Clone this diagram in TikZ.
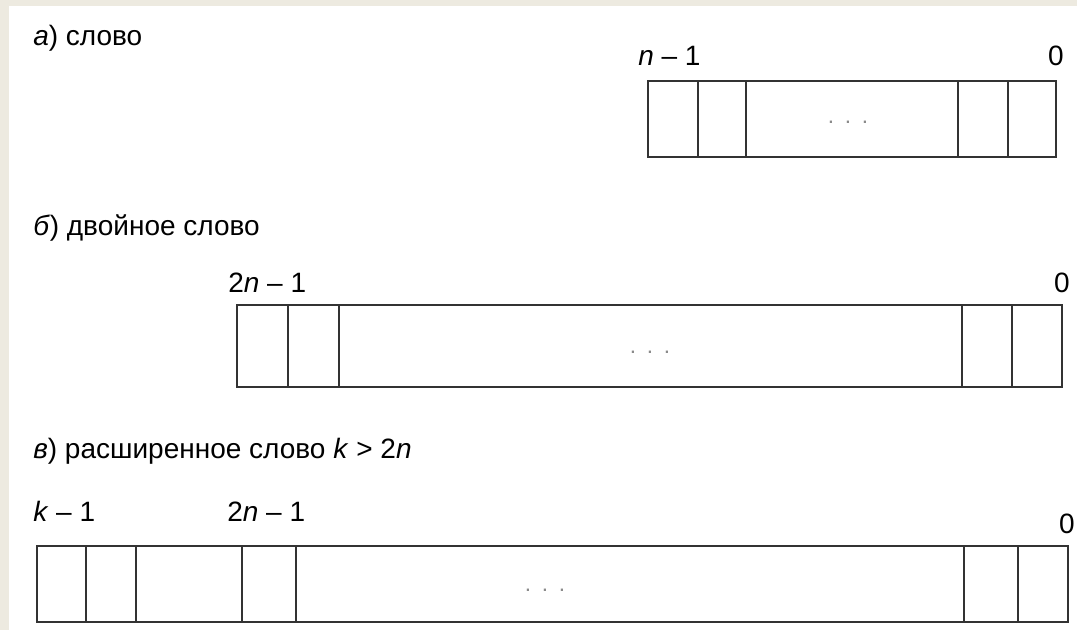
\documentclass[tikz,border=0pt]{standalone}
\usepackage{fontspec}
\setmainfont{Liberation Sans}
\usetikzlibrary{positioning}
\definecolor{WordFrame}{HTML}{EDEAE0}
\definecolor{WordLine}{HTML}{333333}
\definecolor{WordDots}{HTML}{8A8A8A}

\begin{document}
\begin{tikzpicture}[x=0.75pt,y=-0.75pt,node distance=0pt]
    \tikzset{cell/.style={draw=WordLine,line width=1.5pt,inner sep=0pt,outer sep=0pt},
      cw/.style={minimum width=#1*0.75pt},
      ch/.style={minimum height=#1*0.75pt},
      title/.style={inner sep=0pt,anchor=base west,font=\fontsize{21}{25}\selectfont},
      bit/.style={inner sep=0pt,font=\fontsize{21}{25}\selectfont},
      dots/.style={inner sep=0pt,text=WordDots,font=\fontsize{17}{19}\selectfont}}
    \useasboundingbox (0,0) rectangle (1077,630);
    \fill[WordFrame] (0,0) rectangle (1077,630);
    \fill[white] (9,6) rectangle (1077,630);
    % a) word
    \node[title] (ta) at (33,46) {\textit{а}) слово};
    \node[cell,cw=50,ch=76,anchor=north west] (a1) at (648,81) {};
    \node[cell,cw=48,ch=76,right=of a1] (a2) {};
    \node[cell,cw=212,ch=76,right=of a2] (a3) {};
    \node[cell,cw=50,ch=76,right=of a3] (a4) {};
    \node[cell,cw=48,ch=76,right=of a4] (a5) {};
    \node[bit,anchor=base west] (ahi) at (638,66) {\textit{n} – 1};
    \node[bit,anchor=base] (alo) at (a5.east |- ahi.base) {0};
    \node[dots] (ad) at (848,122) {.\hspace{8pt}.\hspace{8pt}.};
    % b) double word
    \node[title] (tb) at (33,236) {\textit{б}) двойное слово};
    \node[cell,cw=51,ch=82,anchor=north west] (b1) at (237,305) {};
    \node[cell,cw=51,ch=82,right=of b1] (b2) {};
    \node[cell,cw=623,ch=82,right=of b2] (b3) {};
    \node[cell,cw=50,ch=82,right=of b3] (b4) {};
    \node[cell,cw=50,ch=82,right=of b4] (b5) {};
    \node[bit,anchor=base west] (bhi) at (228,293) {2\textit{n} – 1};
    \node[bit,anchor=base] (blo) at (b5.east |- bhi.base) {0};
    \node[dots] (bd) at (650,352) {.\hspace{8pt}.\hspace{8pt}.};
    % c) extended word
    \node[title] (tc) at (33,458) {\textit{в}) расширенное слово \textit{k} > 2\textit{n}};
    \node[cell,cw=49,ch=76,anchor=north west] (c1) at (37,546) {};
    \node[cell,cw=50,ch=76,right=of c1] (c2) {};
    \node[cell,cw=106,ch=76,right=of c2] (c3) {};
    \node[cell,cw=54,ch=76,right=of c3] (c4) {};
    \node[cell,cw=668,ch=76,right=of c4] (c5) {};
    \node[cell,cw=54,ch=76,right=of c5] (c6) {};
    \node[cell,cw=50,ch=76,right=of c6] (c7) {};
    \node[bit,anchor=base west] (chi) at (33,521) {\textit{k} – 1};
    \node[bit,anchor=base west] (cmid) at (227,521) {2\textit{n} – 1};
    \node[bit,anchor=base] (clo) at (1067,533) {0};
    \node[dots] (cd) at (545,590) {.\hspace{8pt}.\hspace{8pt}.};
  \end{tikzpicture}
\end{document}
